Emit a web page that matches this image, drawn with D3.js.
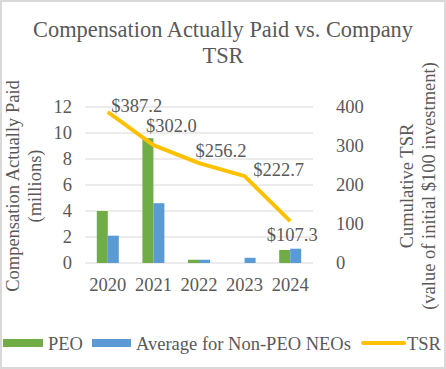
<!DOCTYPE html>
<html>
<head>
<meta charset="utf-8">
<script src="https://cdn.jsdelivr.net/npm/d3@7"></script>
<style>
  body { margin: 0; background: #fff; }
  text { font-family: "Liberation Serif", "Times New Roman", serif; fill: #595959; }
</style>
</head>
<body>
<svg id="chart" width="446" height="369"></svg>
<script>
// chart values
var years = ["2020", "2021", "2022", "2023", "2024"];
var peo = [4.0, 9.6, 0.25, 0, 1.0];
var nonPeo = [2.1, 4.6, 0.25, 0.4, 1.1];
var tsr = [387.2, 302.0, 256.2, 222.7, 107.3];
var tsrLabels = ["$387.2", "$302.0", "$256.2", "$222.7", "$107.3"];
var leftTicks = [0, 2, 4, 6, 8, 10, 12];
var rightTicks = [0, 100, 200, 300, 400];

// label nudges (styling, relative to each point)
var labelNudge = [[29, 0], [18, -13], [22, -6], [34, 0], [2, 20]];

var green = "#70AD47", blue = "#5B9BD5", gold = "#FFC000", grid = "#D9D9D9";
var fs = 18.5;

var svg = d3.select("#chart");
var margin = {top: 107, left: 85, right: 133, bottom: 106},
    width = 446 - margin.left - margin.right,
    height = 369 - margin.top - margin.bottom;

svg.append("rect")
    .attr("x", 1).attr("y", 1)
    .attr("width", 444).attr("height", 367)
    .attr("fill", "#fff")
    .attr("stroke", grid)
    .attr("stroke-width", 2);

var x = d3.scaleBand().domain(years).range([0, width]).paddingInner(0).paddingOuter(0);
var xBar = d3.scaleBand().domain(["peo", "non"]).range([0, 22]);
var yL = d3.scaleLinear().domain([0, 12]).range([height, 0]);
var yR = d3.scaleLinear().domain([0, 400]).range([height, 0]);

var g = svg.append("g")
    .attr("transform", "translate(" + margin.left + "," + margin.top + ")");

// gridlines
g.selectAll("line.grid")
    .data(leftTicks)
    .enter()
    .append("line")
    .attr("class", "grid")
    .attr("x1", 0).attr("x2", width)
    .attr("y1", function(d) { return yL(d); })
    .attr("y2", function(d) { return yL(d); })
    .attr("stroke", grid)
    .attr("stroke-width", 1);

// left axis
var axL = g.append("g").call(d3.axisLeft(yL).tickValues(leftTicks).tickSize(0).tickPadding(13));
axL.select(".domain").remove();
axL.selectAll("text").style("font-size", fs + "px").attr("fill", "#595959")
    .style("font-family", "Liberation Serif");

// right axis
var axR = g.append("g")
    .attr("transform", "translate(" + width + ",0)")
    .call(d3.axisRight(yR).tickValues(rightTicks).tickSize(0).tickPadding(23));
axR.select(".domain").remove();
axR.selectAll("text").style("font-size", fs + "px").attr("fill", "#595959")
    .style("font-family", "Liberation Serif");

// x axis
var axB = g.append("g")
    .attr("transform", "translate(0," + height + ")")
    .call(d3.axisBottom(x).tickSize(0).tickPadding(28));
axB.select(".domain").remove();
axB.selectAll("text").style("font-size", fs + "px").attr("fill", "#595959")
    .style("font-family", "Liberation Serif").attr("dy", "0");

// bars
var barOffset = (x.bandwidth() - 22) / 2;
g.selectAll("rect.peo")
    .data(peo)
    .enter()
    .append("rect")
    .attr("class", "peo")
    .attr("x", function(d, i) { return x(years[i]) + barOffset + xBar("peo"); })
    .attr("width", xBar.bandwidth())
    .attr("y", function(d) { return yL(d); })
    .attr("height", function(d) { return height - yL(d); })
    .attr("fill", green);

g.selectAll("rect.non")
    .data(nonPeo)
    .enter()
    .append("rect")
    .attr("class", "non")
    .attr("x", function(d, i) { return x(years[i]) + barOffset + xBar("non"); })
    .attr("width", xBar.bandwidth())
    .attr("y", function(d) { return yL(d); })
    .attr("height", function(d) { return height - yL(d); })
    .attr("fill", blue);

// TSR line
var line = d3.line()
    .x(function(d, i) { return x(years[i]) + x.bandwidth() / 2; })
    .y(function(d) { return yR(d); });

g.append("path")
    .datum(tsr)
    .attr("fill", "none")
    .attr("stroke", gold)
    .attr("stroke-width", 4)
    .attr("stroke-linejoin", "round")
    .attr("d", line);

g.selectAll("text.lbl")
    .data(tsr)
    .enter()
    .append("text")
    .attr("class", "lbl")
    .attr("text-anchor", "middle")
    .style("font-size", fs + "px")
    .attr("x", function(d, i) { return x(years[i]) + x.bandwidth() / 2 + labelNudge[i][0]; })
    .attr("y", function(d, i) { return yR(d) + labelNudge[i][1]; })
    .text(function(d, i) { return tsrLabels[i]; });

// title
svg.append("text")
    .attr("x", 223).attr("y", 37)
    .attr("text-anchor", "middle")
    .style("font-size", "22.4px")
    .text("Compensation Actually Paid vs. Company");
svg.append("text")
    .attr("x", 223).attr("y", 63)
    .attr("text-anchor", "middle")
    .style("font-size", "22.4px")
    .text("TSR");

// axis titles
var leftTitle = ["Compensation Actually Paid", "(millions)"];
svg.selectAll("text.ltitle")
    .data(leftTitle)
    .enter()
    .append("text")
    .attr("class", "ltitle")
    .attr("text-anchor", "middle")
    .style("font-size", fs + "px")
    .attr("transform", function(d, i) { return "translate(" + (19 + i * 22) + ",186) rotate(-90)"; })
    .text(function(d) { return d; });

var rightTitle = ["Cumulative TSR", "(value of initial $100 investment)"];
svg.selectAll("text.rtitle")
    .data(rightTitle)
    .enter()
    .append("text")
    .attr("class", "rtitle")
    .attr("text-anchor", "middle")
    .style("font-size", fs + "px")
    .attr("transform", function(d, i) { return "translate(" + (413 + i * 22) + ",186) rotate(-90)"; })
    .text(function(d) { return d; });

// legend
var legend = svg.append("g");
legend.append("rect").attr("x", 3).attr("y", 339).attr("width", 40).attr("height", 8).attr("fill", green);
legend.append("text").attr("x", 48).attr("y", 350).style("font-size", fs + "px").text("PEO");
legend.append("rect").attr("x", 92).attr("y", 339).attr("width", 39).attr("height", 8).attr("fill", blue);
legend.append("text").attr("x", 136).attr("y", 350).style("font-size", fs + "px").text("Average for Non-PEO NEOs");
legend.append("line").attr("x1", 363).attr("x2", 404).attr("y1", 343).attr("y2", 343)
    .attr("stroke", gold).attr("stroke-width", 4).attr("stroke-linecap", "round");
legend.append("text").attr("x", 407).attr("y", 350).style("font-size", fs + "px").text("TSR");
</script>
</body>
</html>
